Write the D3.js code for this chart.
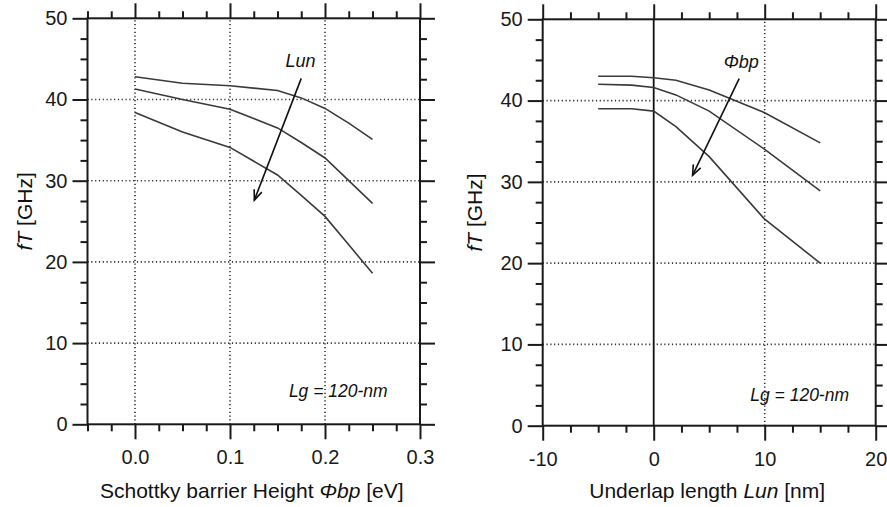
<!DOCTYPE html>
<html>
<head>
<meta charset="utf-8">
<script src="https://cdn.jsdelivr.net/npm/d3@7"></script>
<style>
  body { margin: 0; background: #fff; }
  svg { display: block; font-family: 'Liberation Sans', Arial, sans-serif; }
  .tick text { font-size: 20px; fill: #1a1a1a; }
  .tick line { stroke: #1a1a1a; stroke-width: 2; }
</style>
</head>
<body>
<div id="chart"></div>
<script>
// left panel: fT vs Schottky barrier height, one curve per underlap length
const barrierX = [0, 0.05, 0.1, 0.15, 0.175, 0.2, 0.225, 0.25]
const barrierTop = [42.8, 42.0, 41.7, 41.1, 40.2, 38.9, 37.1, 35.1]
const barrierMid = [41.3, 40.0, 38.8, 36.5, 34.7, 32.8, 30.0, 27.2]
const barrierLow = [38.4, 36.0, 34.1, 30.7, 28.2, 25.6, 22.1, 18.6]

// right panel: fT vs underlap length, one curve per barrier height
const underlapX = [-5, -2, 0, 2, 5, 10, 15]
const underlapTop = [43.0, 43.0, 42.8, 42.5, 41.3, 38.5, 34.8]
const underlapMid = [42.0, 41.9, 41.6, 40.7, 38.7, 34.0, 28.9]
const underlapLow = [39.0, 39.0, 38.7, 36.8, 33.1, 25.4, 20.0]

const yMajor = [0, 10, 20, 30, 40, 50]
const yGrid = [10, 20, 30, 40]
const leftXMajor = [0, 0.1, 0.2, 0.3]
const rightXMajor = [-10, 0, 10, 20]

const svg = d3.select('#chart')
  .append('svg')
  .attr('width', 887)
  .attr('height', 507)

const hyphenInt = d => d3.format('d')(d).replace('\u2212', '-')

const panels = [
  {
    xDomain: [-0.05, 0.3], xRange: [87.5, 420], yRange: [424.3, 18.3],
    xMajor: leftXMajor, xStep: 0.025, fmt: d3.format('.1f'),
    xGrid: [0, 0.1, 0.2], zeroLine: false,
    xs: barrierX, series: [barrierTop, barrierMid, barrierLow],
    arrow: [[0.175, 42.6], [0.1256, 27.6]],
    arrowLabel: { x: 0.1585, y: 44.0, parts: [['Lun', true]] },
    note: { x: 0.162, y: 3.4 },
    yLabelX: 32, title: [['Schottky barrier Height ', false], ['\u03A6bp', true], [' [eV]', false]]
  },
  {
    xDomain: [-10, 20], xRange: [542.7, 875.7], yRange: [425.7, 19.3],
    xMajor: rightXMajor, xStep: 2.5, fmt: hyphenInt,
    xGrid: [10], zeroLine: true,
    xs: underlapX, series: [underlapTop, underlapMid, underlapLow],
    arrow: [[7.7, 42.7], [3.5, 30.8]],
    arrowLabel: { x: 6.3, y: 44.0, parts: [['\u03A6bp', true]] },
    note: { x: 8.7, y: 3.0 },
    yLabelX: 482, title: [['Underlap length ', false], ['Lun', true], [' [nm]', false]]
  }
]

panels.forEach(drawPanel)

function drawPanel(p) {
  const x = d3.scaleLinear().domain(p.xDomain).range(p.xRange)
  const y = d3.scaleLinear().domain([0, 50]).range(p.yRange)
  const [x0, x1] = p.xRange
  const [yb, yt] = p.yRange
  const g = svg.append('g')

  const xMinor = d3.range(p.xDomain[0], p.xDomain[1] + 1e-9, p.xStep)
    .filter(v => !p.xMajor.some(m => Math.abs(m - v) < 1e-9))
  const yMinor = d3.range(0, 50, 2.5).filter(v => v % 10 !== 0)

  // grid
  g.selectAll('.hgrid').data(yGrid).enter().append('line')
    .attr('x1', x0).attr('x2', x1)
    .attr('y1', d => y(d)).attr('y2', d => y(d))
    .attr('stroke', '#333').attr('stroke-width', 1.6)
    .attr('stroke-dasharray', '1.2,2.6')
  g.selectAll('.vgrid').data(p.xGrid).enter().append('line')
    .attr('x1', d => x(d)).attr('x2', d => x(d))
    .attr('y1', yb).attr('y2', yt)
    .attr('stroke', '#333').attr('stroke-width', 1.6)
    .attr('stroke-dasharray', '1.2,2.6')
  if (p.zeroLine) {
    g.append('line')
      .attr('x1', x(0)).attr('x2', x(0)).attr('y1', yb).attr('y2', yt)
      .attr('stroke', '#111').attr('stroke-width', 1.8)
  }

  // curves
  const line = d3.line().x((d, i) => x(p.xs[i])).y(d => y(d))
  g.selectAll('.curve').data(p.series).enter().append('path')
    .attr('d', line)
    .attr('fill', 'none').attr('stroke', '#3a3a3a').attr('stroke-width', 1.6)

  // axes: major + minor, ticks outward
  const axes = [
    [d3.axisBottom, `translate(0,${yb})`, x, p.xMajor, xMinor, p.fmt],
    [d3.axisTop, `translate(0,${yt})`, x, p.xMajor, xMinor, ''],
    [d3.axisLeft, `translate(${x0},0)`, y, yMajor, yMinor, d3.format('d')],
    [d3.axisRight, `translate(${x1},0)`, y, yMajor, yMinor, '']
  ]
  axes.forEach(([axisFn, tr, scale, major, minor, fmt]) => {
    const a = g.append('g').attr('transform', tr)
      .call(axisFn(scale).tickValues(major).tickSize(15).tickPadding(fmt ? (axisFn === d3.axisBottom ? 11 : 5) : 3)
        .tickFormat(fmt || (() => '')))
    a.select('.domain').remove()
    const b = g.append('g').attr('transform', tr)
      .call(axisFn(scale).tickValues(minor).tickSize(7).tickFormat(''))
    b.select('.domain').remove()
  })
  g.selectAll('.tick text').attr('font-family', null).attr('font-size', null)

  // frame
  g.append('rect')
    .attr('x', x0).attr('y', yt).attr('width', x1 - x0).attr('height', yb - yt)
    .attr('fill', 'none').attr('stroke', '#1a1a1a').attr('stroke-width', 2)

  // arrow with open head
  const [s, e] = p.arrow.map(([a, b]) => [x(a), y(b)])
  const ang = Math.atan2(e[1] - s[1], e[0] - s[0])
  const head = 11, spread = 0.38
  g.append('line')
    .attr('x1', s[0]).attr('y1', s[1]).attr('x2', e[0]).attr('y2', e[1])
    .attr('stroke', '#111').attr('stroke-width', 1.6)
  g.append('path')
    .attr('d', `M${e[0] - head * Math.cos(ang - spread)},${e[1] - head * Math.sin(ang - spread)}` +
      `L${e[0]},${e[1]}L${e[0] - head * Math.cos(ang + spread)},${e[1] - head * Math.sin(ang + spread)}`)
    .attr('fill', 'none').attr('stroke', '#111').attr('stroke-width', 1.6)

  const lab = g.append('text')
    .attr('x', x(p.arrowLabel.x)).attr('y', y(p.arrowLabel.y))
    .attr('font-size', 18).attr('fill', '#111')
  p.arrowLabel.parts.forEach(([t, it]) => lab.append('tspan').text(t).attr('font-style', it ? 'italic' : null))

  g.append('text')
    .attr('x', x(p.note.x)).attr('y', y(p.note.y))
    .attr('font-size', 17.5).attr('font-style', 'italic').attr('fill', '#111')
    .text('Lg = 120-nm')

  // axis titles
  const xt = g.append('text')
    .attr('x', (x0 + x1) / 2 - 2).attr('y', 498)
    .attr('text-anchor', 'middle').attr('font-size', 21).attr('fill', '#111')
  p.title.forEach(([t, it]) => xt.append('tspan').text(t).attr('font-style', it ? 'italic' : null))

  const yl = g.append('text')
    .attr('transform', `translate(${p.yLabelX},${(yb + yt) / 2 - 10}) rotate(-90)`)
    .attr('text-anchor', 'middle').attr('font-size', 21).attr('fill', '#111')
  yl.append('tspan').attr('font-style', 'italic').text('fT')
  yl.append('tspan').text(' [GHz]')
}
</script>
</body>
</html>
